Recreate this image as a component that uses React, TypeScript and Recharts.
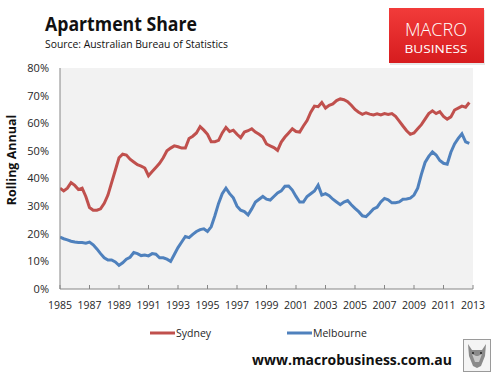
import React from 'react';
import { LineChart, Line, XAxis, YAxis, CartesianGrid } from 'recharts';

const START_YEAR = 1985;
const PERIODS_PER_YEAR = 4;

const sydney = [
  36.5, 35.5, 36.5, 38.5, 37.5, 36, 36.5, 33.5, 29.5, 28.5, 28.5, 29,
  31, 34, 38.5, 43, 47.5, 48.8, 48.5, 47, 46, 45, 44.5, 43.8,
  41, 42.5, 44, 45.5, 47.5, 50, 51, 51.8, 51.5, 51, 51, 54.5,
  55.3, 56.5, 58.8, 57.5, 56, 53.3, 53.3, 53.8, 56.5, 58.5, 57, 57.5,
  56, 54.8, 56.8, 57.3, 58, 56.8, 56, 55, 52.5, 51.8, 51.2, 50.2,
  53.2, 55, 56.5, 58, 57, 56.8, 59, 61, 64, 66.2, 66, 67.5,
  65.5, 66.5, 67, 68.2, 68.8, 68.5, 67.8, 66.5, 65, 64, 63.2, 63.8,
  63.3, 63, 63.4, 63, 63.5, 63.2, 63.5, 62.5, 60.8, 59, 57.3, 56,
  56.5, 58, 59.5, 61.5, 63.5, 64.5, 63.5, 64.2, 62.5, 61.5, 62.3, 64.8,
  65.5, 66.2, 65.8, 67.5,
];

const melbourne = [
  18.8, 18.2, 17.8, 17.3, 17, 16.8, 16.8, 16.6, 17, 16, 14.5, 12.8,
  11.3, 10.5, 10.5, 9.8, 8.6, 9.5, 10.8, 11.5, 13.2, 12.8, 12.1, 12.3,
  12, 12.8, 12.6, 11.3, 11.3, 10.8, 10, 12.5, 15, 17, 19, 18.6,
  19.8, 20.8, 21.5, 21.8, 20.8, 22.5, 26.5, 31, 34.5, 36.5, 34.5, 33,
  30, 28.5, 28, 26.8, 29, 31.5, 32.5, 33.5, 32.5, 32.2, 33.5, 34.8,
  35.5, 37.2, 37.3, 35.8, 33.5, 31.5, 31.5, 33.5, 34.5, 35.5, 37.6, 34,
  34.5, 33.8, 32.5, 31.5, 30.5, 31.5, 32, 30.5, 29.2, 28, 26.5, 26.2,
  27.5, 29, 29.6, 31.5, 32.8, 32.3, 31.2, 31.2, 31.5, 32.5, 32.6, 32.9,
  34, 36.5, 41.5, 45.8, 48, 49.6, 48.5, 46.5, 45.5, 45.2, 49.5, 52.5,
  54.5, 56.2, 53.3, 52.7,
];

const xTicks = [1985, 1987, 1989, 1991, 1993, 1995, 1997, 1999, 2001, 2003, 2005, 2007, 2009, 2011, 2013];
const yTicks = [0, 10, 20, 30, 40, 50, 60, 70, 80];
const seriesKeys = ['sydney', 'melbourne'];
const seriesNames = ['Sydney', 'Melbourne'];
const seriesColors = ['#C0504D', '#4F81BD'];

const data = sydney.map((v, i) => ({
  t: START_YEAR + i / PERIODS_PER_YEAR,
  sydney: v,
  melbourne: melbourne[i],
}));

const FONT = '"Open Sans", "Noto Sans", sans-serif';
const AXIS = '#868686';
const TXT = '#262626';

const XTick = (props: any) => {
  const { x, y, payload } = props;
  return (
    <g>
      <line x1={x} x2={x} y1={y} y2={y - 4} stroke={AXIS} strokeWidth={1} />
      <text x={x} y={y + 20} textAnchor="middle" fontSize={10.5} fill={TXT} fontFamily={FONT}>
        {payload.value}
      </text>
    </g>
  );
};

const legendPos = [150, 287];

export default function App() {
  return (
    <div style={{ position: 'absolute', left: 0, top: 0, width: 498, height: 381, background: '#fff' }}>
      <LineChart width={498} height={381} data={data} margin={{ top: 68, right: 25, left: 0, bottom: 0 }}>
        <CartesianGrid fill="#F2F2F2" stroke="none" horizontal={false} vertical={false} />
        <XAxis
          dataKey="t"
          type="number"
          domain={[1985, 2013]}
          ticks={xTicks}
          interval={0}
          height={92}
          stroke={AXIS}
          tickLine={false}
          tickSize={0}
          tickMargin={0}
          tick={<XTick />}
          allowDataOverflow
        />
        <YAxis
          type="number"
          domain={[0, 80]}
          ticks={yTicks}
          interval={0}
          width={60}
          stroke={AXIS}
          tickLine={false}
          tickSize={0}
          tickMargin={11}
          tickFormatter={(v: number) => `${v}%`}
          tick={{ fontSize: 11, fill: TXT, fontFamily: FONT }}
        />
        {seriesKeys.map((k, i) => (
          <Line
            key={k}
            dataKey={k}
            type="linear"
            stroke={seriesColors[i]}
            strokeWidth={3}
            dot={false}
            isAnimationActive={false}
          />
        ))}
      </LineChart>
      <svg width={498} height={381} style={{ position: 'absolute', left: 0, top: 0, pointerEvents: 'none' }}>
        <defs>
          <linearGradient id="logoGrad" x1="0" y1="0" x2="0" y2="1">
            <stop offset="0" stopColor="#F23B3A" />
            <stop offset="1" stopColor="#D61C1E" />
          </linearGradient>
        </defs>
        <text x={45} y={31} fontSize={19} fontWeight="bold" fill="#111" fontFamily={FONT}
          textLength={152} lengthAdjust="spacingAndGlyphs">Apartment Share</text>
        <text x={45} y={48} fontSize={10.5} fill="#111" fontFamily={FONT}
          textLength={183} lengthAdjust="spacingAndGlyphs">Source: Australian Bureau of Statistics</text>
        <rect x={390} y={10} width={95} height={55} fill="#d9d9d9" opacity={0.6} />
        <rect x={389} y={8} width={95} height={55} fill="url(#logoGrad)" />
        <text x={436} y={35.5} fontSize={19} fill="#fff" textAnchor="middle" fontFamily={FONT} fontWeight={300}
          textLength={62} lengthAdjust="spacingAndGlyphs">MACRO</text>
        <text x={436} y={53} fontSize={10} fill="#fff" textAnchor="middle" fontFamily={FONT}
          textLength={63} lengthAdjust="spacingAndGlyphs">BUSINESS</text>
        <text transform="translate(16,160) rotate(-90)" textAnchor="middle" fontSize={12.5} fontWeight="bold" fill="#111" fontFamily={FONT}>
          Rolling Annual
        </text>
        {seriesNames.map((n, i) => (
          <g key={n}>
            <line x1={legendPos[i]} x2={legendPos[i] + 25} y1={333} y2={333} stroke={seriesColors[i]} strokeWidth={3} />
            <text x={legendPos[i] + 26} y={337} fontSize={10.5} fill={TXT} fontFamily={FONT}>{n}</text>
          </g>
        ))}
        <text x={252} y={365} fontSize={15} fontWeight="bold" fill="#111" fontFamily={FONT}
          textLength={200} lengthAdjust="spacingAndGlyphs">www.macrobusiness.com.au</text>
        <rect x={463.5} y={339.5} width={27} height={32} fill="#f4f4f4" stroke="#9a9a9a" />
        <polygon points="468,344 472,350 482,350 486,344 485,356 481,366 477,368 473,366 469,356" fill="#8a8a8a" />
        <polygon points="472,354 476,356 478,356 482,354 479,362 475,362" fill="#c8c8c8" />
        <circle cx={473} cy={353} r={1} fill="#222" />
        <circle cx={481} cy={353} r={1} fill="#222" />
      </svg>
    </div>
  );
}
